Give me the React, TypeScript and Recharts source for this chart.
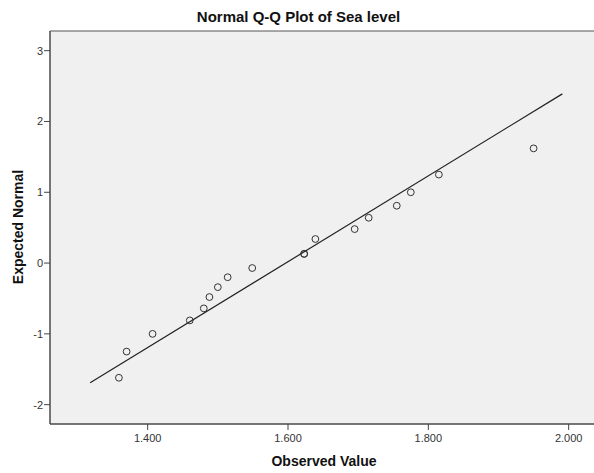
import React from "react";
import {
  ScatterChart,
  Scatter,
  XAxis,
  YAxis,
  ReferenceArea,
} from "recharts";

// Observed sea level values (x) and their expected normal quantiles (y)
const observed = [
  1.359, 1.370, 1.407, 1.460, 1.480, 1.488, 1.500, 1.514, 1.549,
  1.623, 1.623, 1.639, 1.695, 1.715, 1.755, 1.775, 1.815, 1.950,
];
const expected = [
  -1.62, -1.25, -1.0, -0.81, -0.64, -0.48, -0.34, -0.2, -0.07,
  0.13, 0.13, 0.34, 0.48, 0.64, 0.81, 1.0, 1.25, 1.62,
];

// Reference (normal) line endpoints
const lineX = [1.318, 1.991];
const lineY = [-1.69, 2.39];

const xTicks = [1.4, 1.6, 1.8, 2.0];
const yTicks = [-2, -1, 0, 1, 2, 3];

const X_MIN = 1.2608;
const X_MAX = 2.0418;
const Y_MIN = -2.273;
const Y_MAX = 3.278;

const points = observed.map((x, i) => ({ x, y: expected[i] }));
const linePts = lineX.map((x, i) => ({ x, y: lineY[i] }));

const FONT = '"Liberation Sans", Arial, sans-serif';

const Circle = (props: any) => {
  const { cx, cy } = props;
  if (cx == null || cy == null) return null;
  return <circle cx={cx} cy={cy} r={3.4} fill="none" stroke="#333" strokeWidth={1} />;
};

export default function App() {
  return (
    <div
      style={{
        position: "absolute",
        left: 0,
        top: 0,
        width: 594,
        height: 473,
        overflow: "hidden",
        background: "#fff",
        fontFamily: FONT,
      }}
    >
      <div
        style={{
          position: "absolute",
          left: 0,
          top: 8,
          width: 597,
          textAlign: "center",
          fontSize: 15,
          lineHeight: "17px",
          fontWeight: "bold",
          color: "#111",
          fontFamily: FONT,
        }}
      >
        Normal Q-Q Plot of Sea level
      </div>
      <ScatterChart
        width={600}
        height={473}
        margin={{ top: 31, right: 2, bottom: 0, left: 0 }}
        style={{ position: "absolute", left: 0, top: 0 }}
      >
        <ReferenceArea
          x1={X_MIN}
          x2={X_MAX}
          y1={Y_MIN}
          y2={Y_MAX}
          fill="#f0f0f0"
          fillOpacity={1}
          stroke="#555"
          strokeWidth={1}
          ifOverflow="visible"
        />
        <XAxis
          type="number"
          dataKey="x"
          domain={[X_MIN, X_MAX]}
          allowDataOverflow
          ticks={xTicks}
          tickFormatter={(v: number) => v.toFixed(3)}
          height={49}
          tickSize={6}
          tickMargin={4}
          stroke="#444"
          tick={{ fill: "#333", fontSize: 11, fontFamily: FONT }}
          label={{
            value: "Observed Value",
            position: "insideBottom",
            offset: 7,
            fill: "#111",
            fontSize: 14,
            fontWeight: "bold",
            fontFamily: FONT,
          }}
        />
        <YAxis
          type="number"
          dataKey="y"
          domain={[Y_MIN, Y_MAX]}
          allowDataOverflow
          ticks={yTicks}
          width={50}
          tickSize={6}
          tickMargin={1}
          stroke="#444"
          tick={{ fill: "#333", fontSize: 11, fontFamily: FONT }}
          label={{
            content: () => (
              <text
                x={18}
                y={227}
                transform="rotate(-90 18 227)"
                textAnchor="middle"
                dominantBaseline="central"
                fill="#111"
                fontSize={14}
                fontWeight="bold"
                fontFamily={FONT}
              >
                Expected Normal
              </text>
            ),
          }}
        />
        <Scatter
          data={linePts}
          line={{ stroke: "#222", strokeWidth: 1.2 }}
          shape={() => null}
          isAnimationActive={false}
        />
        <Scatter data={points} shape={Circle} isAnimationActive={false} />
      </ScatterChart>
    </div>
  );
}
